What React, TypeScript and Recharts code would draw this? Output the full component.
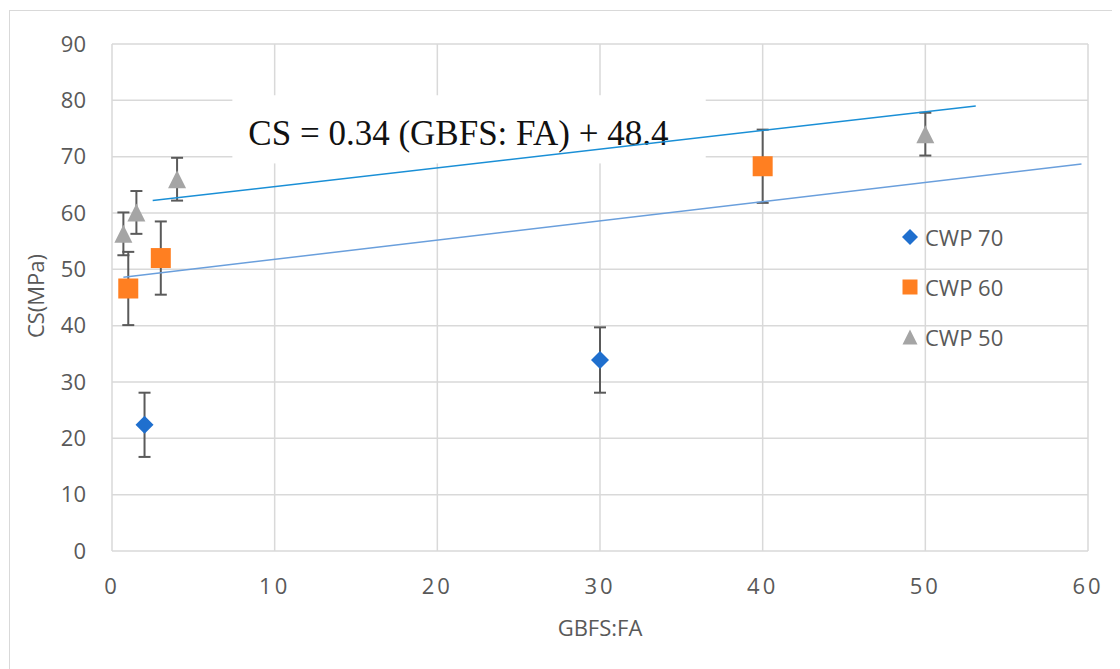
import React from 'react';
import { ScatterChart, Scatter, XAxis, YAxis, CartesianGrid, ErrorBar, ReferenceArea } from 'recharts';

// tick values
const xTicks = [0, 10, 20, 30, 40, 50, 60];
const yTicks = [0, 10, 20, 30, 40, 50, 60, 70, 80, 90];

// measured points with +/- error
const cwp70 = [
  { x: 2, y: 22.4, err: 5.7 },
  { x: 30, y: 33.9, err: 5.8 },
];
const cwp60 = [
  { x: 1, y: 46.6, err: 6.5 },
  { x: 3, y: 52, err: 6.5 },
  { x: 40, y: 68.3, err: 6.5 },
];
const cwp50 = [
  { x: 0.7, y: 56.3, err: 3.8 },
  { x: 1.5, y: 60.1, err: 3.8 },
  { x: 4, y: 66, err: 3.8 },
  { x: 50, y: 74, err: 3.8 },
];

// trend lines (end points)
const trendLower = [
  { x: 0.7, y: 48.6 },
  { x: 59.6, y: 68.7 },
];
const trendUpper = [
  { x: 2.5, y: 62.2 },
  { x: 53.1, y: 79.0 },
];

const equationText = 'CS = 0.34 (GBFS: FA) + 48.4';
// white box behind the equation, in data units
const eqBox = { x1: 7.4, x2: 36.5, y1: 68.8, y2: 80.9 };

const BLUE = '#1f6fce';
const ORANGE = '#ff7f21';
const GRAY = '#a5a5a5';
const TEXT = '#595959';
const GRID = '#d9d9d9';
const ERR = '#5a5a5a';

const legendItems = [
  { name: 'CWP 70', color: BLUE, kind: 'diamond' },
  { name: 'CWP 60', color: ORANGE, kind: 'square' },
  { name: 'CWP 50', color: GRAY, kind: 'triangle' },
];

const markerPath = (kind: string, cx: number, cy: number, r: number) => {
  if (kind === 'diamond') return `M${cx},${cy - r}L${cx + r},${cy}L${cx},${cy + r}L${cx - r},${cy}Z`;
  if (kind === 'square') return `M${cx - r},${cy - r}h${2 * r}v${2 * r}h${-2 * r}Z`;
  return `M${cx},${cy - r}L${cx + r},${cy + r}L${cx - r},${cy + r}Z`;
};

const makeShape = (kind: string, color: string, r: number) => (props: any) => {
  const { cx, cy } = props;
  if (cx == null || cy == null) return <g />;
  return <path d={markerPath(kind, cx, cy, r)} fill={color} />;
};

const EquationBox = (props: any) => {
  const { x, y, width, height } = props;
  return (
    <g>
      <rect x={x} y={y} width={width} height={height} fill="#fff" />
      <text
        x={x + 16}
        y={y + 50}
        fontFamily="'Liberation Serif', 'Times New Roman', serif"
        fontSize={35}
        fill="#111"
      >
        {equationText}
      </text>
    </g>
  );
};

const tickStyle = { fill: TEXT, fontSize: 22, fontFamily: 'Open Sans' };

export default function App() {
  return (
    <div style={{ position: 'relative', width: 1112, height: 661, overflow: 'hidden', fontFamily: 'Open Sans' }}>
      <div
        style={{
          position: 'absolute',
          left: 1,
          top: 2,
          width: 1103,
          height: 700,
          border: `1px solid ${GRID}`,
        }}
      />
      <div style={{ position: 'absolute', left: 0, top: 0 }}>
        <ScatterChart width={1104} height={653} margin={{ top: 36, right: 24, bottom: 70, left: 44 }}>
          <CartesianGrid stroke={GRID} strokeWidth={1.5} />
          <XAxis
            type="number"
            dataKey="x"
            domain={[0, 60]}
            ticks={xTicks}
            axisLine={false}
            tickLine={false}
            tickSize={0}
            tickMargin={27}
            height={40}
            tick={{ ...tickStyle, letterSpacing: 3 }}
          />
          <YAxis
            type="number"
            dataKey="y"
            domain={[0, 90]}
            ticks={yTicks}
            axisLine={false}
            tickLine={false}
            tickSize={0}
            tickMargin={26}
            width={60}
            tick={tickStyle}
          />
          <ReferenceArea
            x1={eqBox.x1}
            x2={eqBox.x2}
            y1={eqBox.y1}
            y2={eqBox.y2}
            shape={EquationBox}
          />
          <Scatter
            data={cwp70}
            shape={makeShape('diamond', BLUE, 9)}
            isAnimationActive={false}
          >
            <ErrorBar dataKey="err" direction="y" width={6} stroke={ERR} strokeWidth={2} isAnimationActive={false} />
          </Scatter>
          <Scatter
            data={cwp60}
            shape={makeShape('square', ORANGE, 10)}
            isAnimationActive={false}
          >
            <ErrorBar dataKey="err" direction="y" width={6} stroke={ERR} strokeWidth={2} isAnimationActive={false} />
          </Scatter>
          <Scatter
            data={cwp50}
            shape={makeShape('triangle', GRAY, 9)}
            isAnimationActive={false}
          >
            <ErrorBar dataKey="err" direction="y" width={6} stroke={ERR} strokeWidth={2} isAnimationActive={false} />
          </Scatter>
          <Scatter
            data={trendLower}
            line={{ stroke: '#6a9fdc', strokeWidth: 1.5 }}
            shape={() => <g />}
            isAnimationActive={false}
          />
          <Scatter
            data={trendUpper}
            line={{ stroke: '#1a8fd6', strokeWidth: 1.5 }}
            shape={() => <g />}
            isAnimationActive={false}
          />
        </ScatterChart>
      </div>

      {/* axis titles */}
      <div
        style={{
          position: 'absolute',
          left: 27,
          top: 288,
          transform: 'translate(-50%, -50%) rotate(-90deg)',
          color: TEXT,
          fontSize: 22,
          whiteSpace: 'nowrap',
        }}
      >
        CS(MPa)
      </div>
      <div
        style={{
          position: 'absolute',
          left: 592,
          top: 619,
          transform: 'translate(-50%, -50%)',
          color: TEXT,
          fontSize: 22,
          whiteSpace: 'nowrap',
        }}
      >
        GBFS:FA
      </div>

      {/* legend */}
      {legendItems.map((item, i) => (
        <div
          key={item.name}
          style={{
            position: 'absolute',
            left: 893,
            top: 229 + i * 50,
            transform: 'translateY(-50%)',
            display: 'flex',
            alignItems: 'center',
            color: TEXT,
            fontSize: 22,
            whiteSpace: 'nowrap',
          }}
        >
          <svg width={18} height={18} style={{ marginRight: 6 }}>
            <path d={markerPath(item.kind, 9, 9, item.kind === 'diamond' ? 8 : 7.5)} fill={item.color} />
          </svg>
          <span>{item.name}</span>
        </div>
      ))}
    </div>
  );
}
